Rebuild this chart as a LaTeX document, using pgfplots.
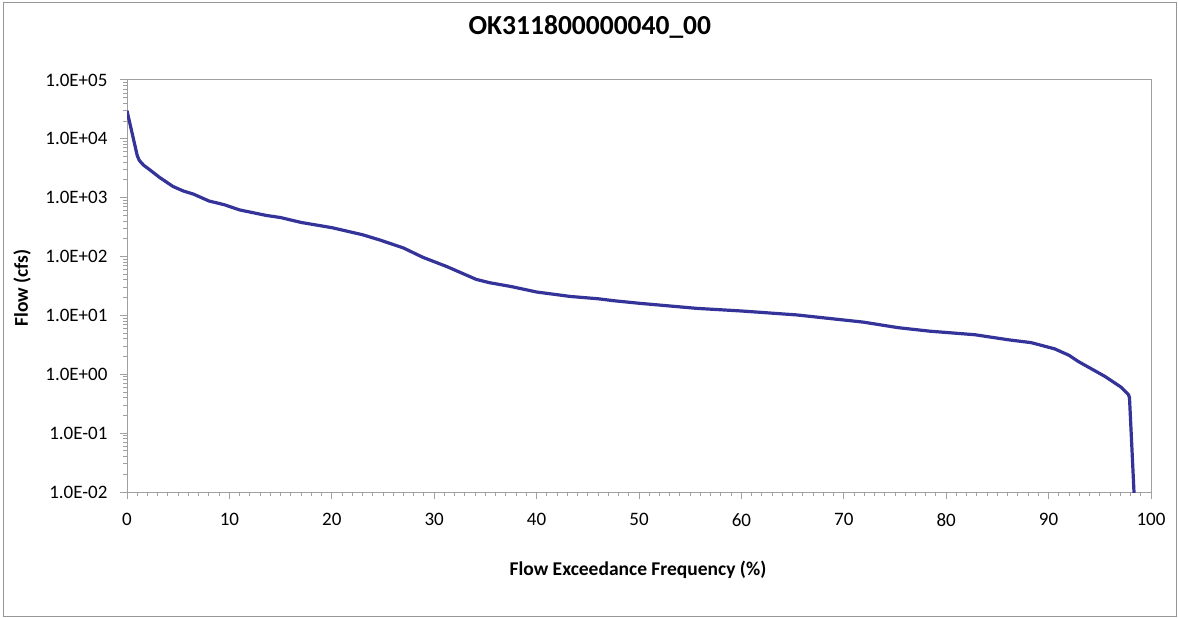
\documentclass[border=0pt]{standalone}
\usepackage{pgfplots}
\pgfplotsset{compat=1.18}
\usepackage{fontspec}
\setmainfont{Carlito}
\definecolor{linec}{RGB}{51,51,153}
\definecolor{axc}{RGB}{160,160,160}
\definecolor{framec}{RGB}{150,150,150}
\begin{document}
\begin{tikzpicture}
\useasboundingbox (0,0) rectangle (1178bp,618bp);
\draw[framec, line width=1bp] (3.5bp,1.5bp) rectangle (1176.5bp,615bp);
\begin{axis}[
  at={(127bp,126bp)}, anchor=south west,
  scale only axis, width=1024bp, height=412bp,
  xmin=0, xmax=100, ymode=log, ymin=1e-2, ymax=1e5,
  axis line style={axc, line width=1bp},
  xtick={0,10,...,100},
  xticklabels={0,10,20,30,40,50,60,70,80,90,100},
  minor x tick num=9,
  ytick={1e-2,1e-1,1e0,1e1,1e2,1e3,1e4,1e5},
  yticklabels={1.0E-02,1.0E-01,1.0E+00,1.0E+01,1.0E+02,1.0E+03,1.0E+04,1.0E+05},
  minor ytick={0.02,0.03,0.04,0.05,0.06,0.07,0.08,0.09,
    0.2,0.3,0.4,0.5,0.6,0.7,0.8,0.9,
    2,3,4,5,6,7,8,9,
    20,30,40,50,60,70,80,90,
    200,300,400,500,600,700,800,900,
    2000,3000,4000,5000,6000,7000,8000,9000,
    20000,30000,40000,50000,60000,70000,80000,90000},
  tick align=outside, tick pos=left,
  major tick length=7bp, minor tick length=4bp,
  every tick/.style={axc, line width=1bp},
  tick label style={font=\fontsize{19bp}{22bp}\selectfont, black},
  xticklabel style={yshift=-11bp},
  yticklabel style={xshift=-9bp},
  title={\textbf{OK311800000040\_00}},
  title style={font=\fontsize{27.5bp}{30bp}\selectfont, at={(rel axis cs:0.452,1.114)}, anchor=center},
  xlabel={\textbf{Flow Exceedance Frequency (\%)}},
  xlabel style={font=\fontsize{19.5bp}{22bp}\selectfont, at={(rel axis cs:0.499,-0.189)}, anchor=center},
  ylabel={\textbf{Flow (cfs)}},
  ylabel style={font=\fontsize{19.5bp}{22bp}\selectfont, at={(rel axis cs:-0.1025,0.495)}, anchor=center, rotate=0},
  clip=true,
]
\addplot[linec, line width=3.2bp, line join=round] coordinates {
(0,30000) (0.5,12500) (1.0,5200) (1.2,4300) (1.6,3600) (2.2,3000) (3.2,2200)
(4.5,1550) (5.5,1300) (6.5,1150) (8,880) (9.5,760) (11,620) (13.6,500)
(15,460) (17,380) (20,310) (23,235) (24.7,191) (27,140) (28.9,97) (31.2,68)
(34.1,41) (35.4,36) (37.5,31) (40,25) (43.3,21) (46,19.2) (47.5,17.8) (50,16.1)
(55.6,13.2) (60,11.9) (65.4,10.2) (71.9,7.7) (75.3,6.2) (78.4,5.4) (82.8,4.7)
(86.1,3.85) (88.3,3.45) (90.6,2.7) (92,2.1) (92.9,1.65) (95.5,0.92)
(97.1,0.6) (97.8,0.45) (97.9,0.4) (98.4,0.006)
};
\draw[axc, line width=1bp] (rel axis cs:0,1) -- (rel axis cs:1,1) -- (rel axis cs:1,0);
\node[anchor=west, font=\fontsize{15bp}{18bp}\selectfont] at (rel axis cs:-0.043,-0.2136) {NOTE: AU:2930:07300580,A;-CN,-R};
\end{axis}
\end{tikzpicture}
\end{document}
